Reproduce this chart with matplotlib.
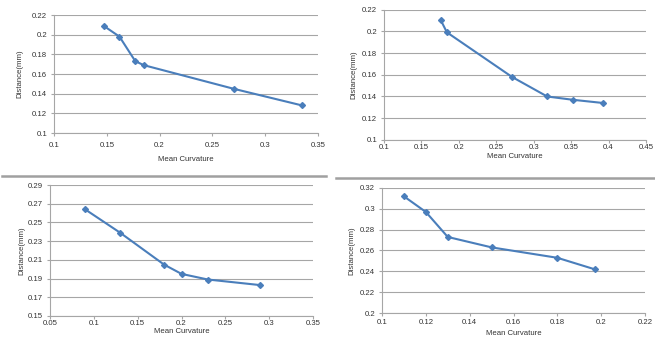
import matplotlib
matplotlib.use("Agg")
import matplotlib.pyplot as plt
from matplotlib.lines import Line2D

plt.rcParams['font.family'] = ['Liberation Sans', 'DejaVu Sans']

# panel data
tl_x = [0.147, 0.162, 0.177, 0.185, 0.270, 0.335]
tl_y = [0.209, 0.198, 0.173, 0.169, 0.145, 0.128]

tr_x = [0.176, 0.184, 0.271, 0.318, 0.352, 0.393]
tr_y = [0.210, 0.199, 0.158, 0.140, 0.137, 0.134]

bl_x = [0.09, 0.13, 0.18, 0.20, 0.23, 0.29]
bl_y = [0.264, 0.239, 0.205, 0.195, 0.189, 0.183]

br_x = [0.110, 0.120, 0.130, 0.150, 0.180, 0.197]
br_y = [0.312, 0.297, 0.273, 0.263, 0.253, 0.242]

tl_xticks = [0.1, 0.15, 0.2, 0.25, 0.3, 0.35]
tl_yticks = [0.1, 0.12, 0.14, 0.16, 0.18, 0.2, 0.22]
tr_xticks = [0.1, 0.15, 0.2, 0.25, 0.3, 0.35, 0.4, 0.45]
tr_yticks = [0.1, 0.12, 0.14, 0.16, 0.18, 0.2, 0.22]
bl_xticks = [0.05, 0.1, 0.15, 0.2, 0.25, 0.3, 0.35]
bl_yticks = [0.15, 0.17, 0.19, 0.21, 0.23, 0.25, 0.27, 0.29]
br_xticks = [0.1, 0.12, 0.14, 0.16, 0.18, 0.2, 0.22]
br_yticks = [0.2, 0.22, 0.24, 0.26, 0.28, 0.3, 0.32]

W, H = 655, 352
fig = plt.figure(figsize=(W / 100, H / 100), dpi=100)
fig.patch.set_facecolor('white')

LINE = '#4a7ebb'
GRID = '#a6a6a6'
TXT = '#333333'
FS = 5.6


def fmt(v):
    s = ('%.2f' % v).rstrip('0').rstrip('.')
    return s


def panel(box, xs, ys, xticks, yticks, xpad=1.5, xlpad=2, ylpad=3):
    x0, y0, x1, y1 = box
    ax = fig.add_axes([x0 / W, 1 - y1 / H, (x1 - x0) / W, (y1 - y0) / H])
    ax.plot(xs, ys, color=LINE, lw=1.5, marker='D', ms=3.0,
            mfc=LINE, mec=LINE, solid_joinstyle='round')
    ax.set_xlim(xticks[0], xticks[-1])
    ax.set_ylim(yticks[0], yticks[-1])
    ax.set_xticks(xticks)
    ax.set_yticks(yticks)
    ax.set_xticklabels([fmt(v) for v in xticks], fontsize=FS, color=TXT)
    ax.set_yticklabels([fmt(v) for v in yticks], fontsize=FS, color=TXT)
    ax.yaxis.grid(True, color=GRID, lw=0.8)
    ax.set_axisbelow(True)
    for s in ['top', 'right']:
        ax.spines[s].set_visible(False)
    for s in ['left', 'bottom']:
        ax.spines[s].set_color(GRID)
        ax.spines[s].set_linewidth(0.8)
    ax.tick_params(axis='both', length=2, width=0.8, color=GRID, pad=3)
    ax.tick_params(axis='x', pad=xpad)
    ax.set_xlabel('Mean Curvature', fontsize=FS, color=TXT, labelpad=xlpad)
    ax.set_ylabel('Distance(mm)', fontsize=FS, color=TXT, labelpad=ylpad)
    return ax


panel((54, 15, 318, 133), tl_x, tl_y, tl_xticks, tl_yticks,
      xpad=4.5, xlpad=5, ylpad=6)
panel((384, 9.5, 646, 140), tr_x, tr_y, tr_xticks, tr_yticks,
      xpad=1, xlpad=1.5, ylpad=3)
panel((50, 185, 313, 316), bl_x, bl_y, bl_xticks, bl_yticks,
      xpad=1, xlpad=0.5, ylpad=2)
panel((382, 188, 645, 313), br_x, br_y, br_xticks, br_yticks,
      xpad=2.5, xlpad=3, ylpad=3)

# gray separators between the rows
fig.add_artist(Line2D([2 / W, 326 / W], [1 - 175.5 / H, 1 - 175.5 / H],
                      color='#a0a0a0', lw=1.8))
fig.add_artist(Line2D([336 / W, 655 / W], [1 - 178 / H, 1 - 178 / H],
                      color='#a0a0a0', lw=1.8))

fig.savefig('out.png', dpi=100, facecolor='white')
